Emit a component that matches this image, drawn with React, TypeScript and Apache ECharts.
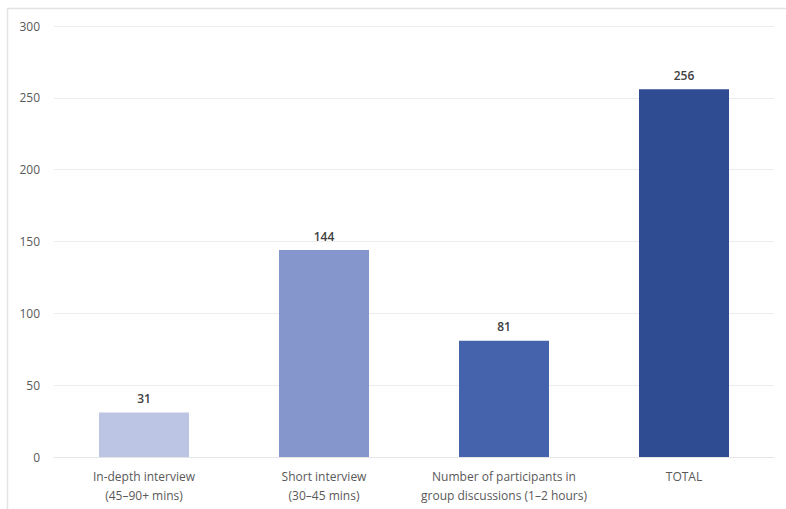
import React, { useEffect, useRef } from "react";
import * as echarts from "echarts";

const categories = [
  "In-depth interview\n(45–90+ mins)",
  "Short interview\n(30–45 mins)",
  "Number of participants in\ngroup discussions (1–2 hours)",
  "TOTAL",
];
const values = [31, 144, 81, 256];
const barColors = ["#bdc5e5", "#8496cc", "#4563ad", "#2f4c92"];
const yTicks = { min: 0, max: 300, interval: 50 };

export default function App() {
  const ref = useRef<HTMLDivElement>(null);
  useEffect(() => {
    const chart = echarts.init(ref.current!, null, { renderer: "svg" });
    chart.setOption({
      animation: false,
      backgroundColor: "#ffffff",
      textStyle: { fontFamily: "Open Sans" },
      graphic: [
        {
          type: "rect",
          shape: { x: 7.5, y: 8.5, width: 900, height: 700 },
          style: { fill: "none", stroke: "#e3e3e3", lineWidth: 1.5 },
          silent: true,
        },
      ],
      grid: { left: 54, right: 12, top: 26, bottom: 52, containLabel: false },
      xAxis: {
        type: "category",
        data: categories,
        axisTick: { show: false },
        axisLine: { show: true, lineStyle: { color: "#e6e6e6", width: 1 } },
        axisLabel: {
          interval: 0,
          color: "#595959",
          fontSize: 12,
          lineHeight: 19,
          margin: 10,
          fontFamily: "Open Sans",
        },
      },
      yAxis: {
        type: "value",
        min: yTicks.min,
        max: yTicks.max,
        interval: yTicks.interval,
        axisLine: { show: false },
        axisTick: { show: false },
        splitLine: { lineStyle: { color: "#ececec", width: 1 } },
        axisLabel: {
          color: "#595959",
          fontSize: 12,
          margin: 14,
          fontFamily: "Open Sans",
        },
      },
      series: [
        {
          type: "bar",
          barWidth: "50%",
          data: values.map((v, i) => ({ value: v, itemStyle: { color: barColors[i] } })),
          label: {
            show: true,
            position: "top",
            distance: 8,
            color: "#404040",
            fontSize: 12,
            fontWeight: 600,
            fontFamily: "Open Sans",
          },
        },
      ],
    });
    return () => chart.dispose();
  }, []);
  return (
    <div
      ref={ref}
      style={{ position: "absolute", left: 0, top: 0, width: 786, height: 509 }}
    />
  );
}
